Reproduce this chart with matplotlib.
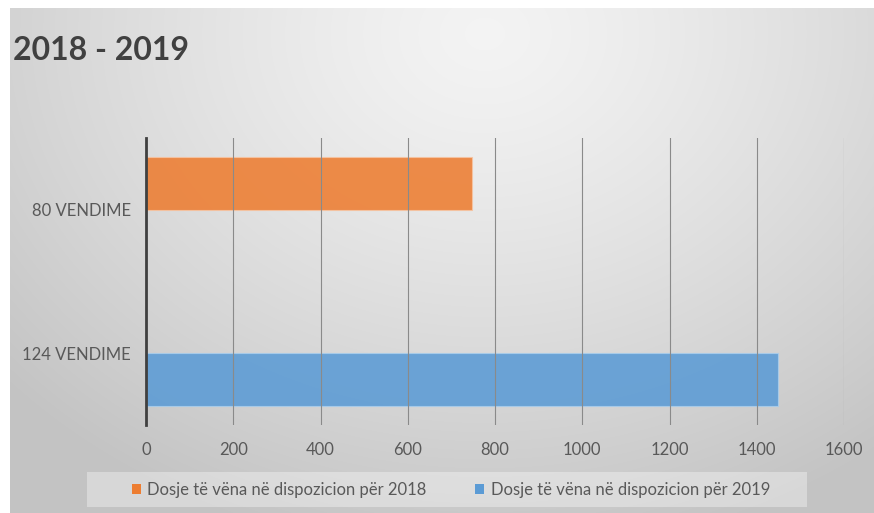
import numpy as np
import matplotlib
matplotlib.use("Agg")
import matplotlib.pyplot as plt
from matplotlib.patches import Rectangle, Patch

# ---- data ----
categories = ["80 VENDIME", "124 VENDIME"]
series_names = ["Dosje të vëna në dispozicion për 2018",
                "Dosje të vëna në dispozicion për 2019"]
values_2018 = [748, 0]
values_2019 = [0, 1448]
x_ticks = [0, 200, 400, 600, 800, 1000, 1200, 1400, 1600]
title_text = "2018 - 2019"

plt.rcParams['font.family'] = ['Lato', 'DejaVu Sans']

W, H = 874, 513
fig = plt.figure(figsize=(W / 100, H / 100), dpi=100, facecolor="white")

# background gradient (slide-like)
bg = fig.add_axes([10 / W, 0, 1 - 10 / W, 1 - 8 / H])
bg.set_axis_off()
yy, xx = np.mgrid[0:1:300j, 0:1:500j]
r = np.sqrt(((xx - 0.55) / 0.75) ** 2 + ((yy - 0.05) / 1.05) ** 2)
r = np.clip(r, 0, 1)
shade = 0.955 - 0.19 * r ** 1.3
img = np.dstack([shade, shade, shade])
bg.imshow(img, aspect="auto", extent=[0, 1, 1, 0], interpolation="bilinear")
bg.set_xlim(0, 1)
bg.set_ylim(1, 0)

# main axes
ax = fig.add_axes([146 / W, 1 - 425 / H, (844 - 146) / W, (425 - 138) / H])
ax.patch.set_alpha(0)
ypos = np.arange(len(categories))
h = 0.37
ax.barh(ypos - h / 2, values_2018, height=h, color="#ED7D31", alpha=0.88,
        edgecolor="#F6C4A2", linewidth=0.8, zorder=2)
ax.barh(ypos + h / 2, values_2019, height=h, color="#5B9BD5", alpha=0.88,
        edgecolor="#A9CDEB", linewidth=0.8, zorder=2)
ax.set_ylim(-0.5, 1.5)
ax.invert_yaxis()
ax.set_xlim(0, 1600)
ax.set_xticks(x_ticks)
ax.set_xticklabels([str(t) for t in x_ticks])
ax.set_yticks(ypos)
ax.set_yticklabels(categories)
ax.tick_params(axis="both", length=0, colors="#595959")
ax.tick_params(axis="x", labelsize=12, pad=12)
ax.tick_params(axis="y", labelsize=12, pad=11)
for lbl in ax.get_xticklabels() + ax.get_yticklabels():
    lbl.set_color("#595959")
for s in ["top", "right", "bottom"]:
    ax.spines[s].set_visible(False)
ax.spines["left"].set_color("#404040")
ax.spines["left"].set_linewidth(2.0)
ax.spines["left"].set_zorder(4)
ax.set_axisbelow(False)
ax.xaxis.grid(True, color="#8a8a8a", linewidth=0.8, zorder=3)
ax.yaxis.grid(False)

# title
fig.text(13 / W, 1 - 51 / H, title_text, fontsize=23, fontweight="bold",
         color="#404040", ha="left", va="center")

# legend background
fig.patches.append(Rectangle((87 / W, 1 - 507 / H), (807 - 87) / W, 35 / H,
                             transform=fig.transFigure, facecolor="white",
                             alpha=0.35, edgecolor="none", zorder=1))
handles = [Patch(facecolor="#ED7D31", edgecolor="none"),
           Patch(facecolor="#5B9BD5", edgecolor="none")]
leg = fig.legend(handles, series_names, loc="center",
                 bbox_to_anchor=(451 / W, 1 - 490 / H), ncol=2, frameon=False,
                 fontsize=12, handlelength=0.55, handleheight=0.55,
                 handletextpad=0.4, columnspacing=2.9)
for t in leg.get_texts():
    t.set_color("#595959")

fig.savefig("out.png", dpi=100, facecolor="white")
